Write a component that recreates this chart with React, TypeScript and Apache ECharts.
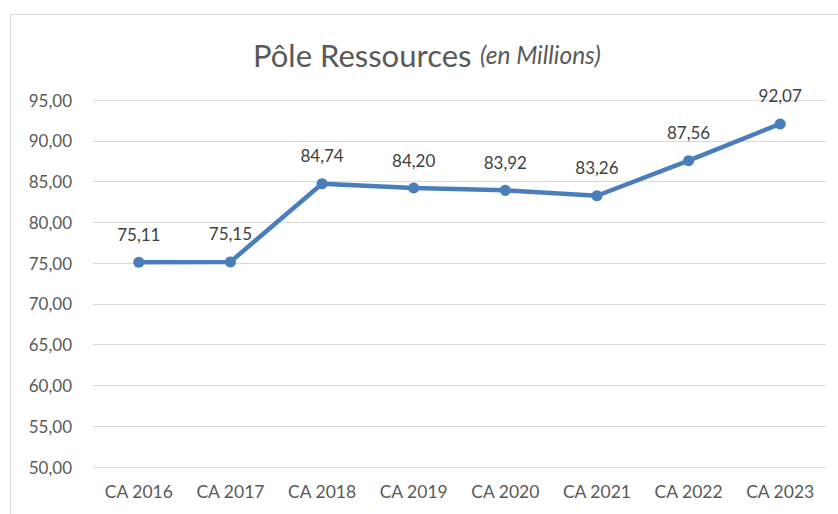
import React, { useEffect, useRef } from "react";
import * as echarts from "echarts";

const categories = ["CA 2016", "CA 2017", "CA 2018", "CA 2019", "CA 2020", "CA 2021", "CA 2022", "CA 2023"];
const values = [75.11, 75.15, 84.74, 84.2, 83.92, 83.26, 87.56, 92.07];
const yMin = 50;
const yMax = 95;
const yStep = 5;

const fmt = (v: number) => v.toFixed(2).replace(".", ",");

export default function App() {
  const ref = useRef<HTMLDivElement>(null);
  useEffect(() => {
    if (!ref.current) return;
    const chart = echarts.init(ref.current, undefined, { renderer: "svg" });
    chart.setOption({
      animation: false,
      backgroundColor: "#ffffff",
      textStyle: { fontFamily: "Lato" },
      graphic: [
        {
          type: "rect",
          shape: { x: 10.5, y: 14.5, width: 900, height: 600 },
          style: { fill: "none", stroke: "#d9d9d9", lineWidth: 1 },
          silent: true,
        },
      ],
      title: {
        text: "{a|Pôle Ressources} {b|(en Millions)}",
        left: 248,
        top: 34,
        textStyle: {
          fontWeight: "normal",
          rich: {
            a: { fontFamily: "Lato", fontSize: 31, fontWeight: "normal", color: "#595959" },
            b: { fontFamily: "Lato", fontSize: 24.5, fontStyle: "italic", fontWeight: "normal", color: "#595959", padding: [0, 0, 0, 4] },
          },
        },
      },
      grid: { left: 93, right: 12, top: 100, bottom: 47, containLabel: false },
      xAxis: {
        type: "category",
        data: categories,
        boundaryGap: true,
        axisLine: { show: false },
        axisTick: { show: false },
        axisLabel: { color: "#595959", fontSize: 17.5, fontFamily: "Lato", margin: 15 },
      },
      yAxis: {
        type: "value",
        min: yMin,
        max: yMax,
        interval: yStep,
        axisLine: { show: false },
        axisTick: { show: false },
        splitLine: { lineStyle: { color: "#d9d9d9", width: 1 } },
        axisLabel: {
          color: "#595959",
          fontSize: 17,
          fontFamily: "Lato",
          margin: 21,
          formatter: (v: number) => fmt(v),
        },
      },
      series: [
        {
          type: "line",
          data: values,
          lineStyle: { color: "#4a7ebb", width: 4.5 },
          itemStyle: { color: "#4a7ebb" },
          symbol: "circle",
          symbolSize: 11,
          label: {
            show: true,
            position: "top",
            distance: 14,
            color: "#404040",
            fontSize: 17,
            fontFamily: "Lato",
            formatter: (p: any) => fmt(p.value),
          },
        },
      ],
    });
    return () => chart.dispose();
  }, []);
  return (
    <div
      ref={ref}
      style={{ position: "fixed", left: 0, top: 0, width: 838, height: 514 }}
    />
  );
}
